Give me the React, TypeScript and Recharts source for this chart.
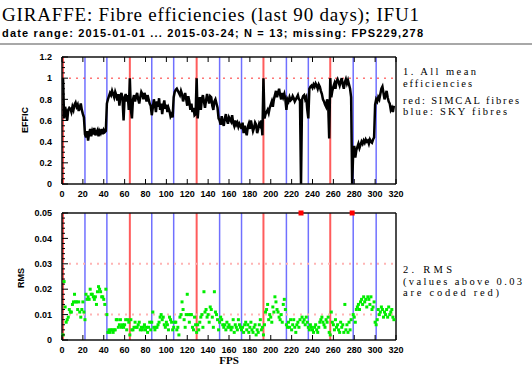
import React from 'react';
import { ComposedChart, Line, Scatter, XAxis, YAxis, ReferenceLine } from 'recharts';

// mean efficiency per fibre position (FPS 1..318); 229 and 278 are missing (0)
const efficiency = [
  1.00,
  0.62, 0.73, 0.68, 0.60, 0.70, 0.72, 0.71, 0.68, 0.73, 0.70, 0.75, 0.77, 0.73, 0.75, 0.69, 0.72, 0.76, 0.70, 0.66, 0.63,
  0.47,
  0.44, 0.50, 0.41, 0.48, 0.52, 0.45, 0.50, 0.47, 0.53, 0.46, 0.49, 0.51, 0.45, 0.50, 0.48, 0.52, 0.47, 0.51, 0.49, 0.50,
  0.76,
  0.80, 0.83, 0.86, 0.84, 0.88, 0.85, 0.82, 0.87, 0.84, 0.79, 0.85, 0.74, 0.83, 0.86, 0.80, 0.60, 0.82, 0.85, 0.78, 0.84, 0.70,
  1.00,
  0.70, 0.62, 0.80, 0.84, 0.78, 0.83, 0.86, 0.80, 0.76, 0.82, 0.87, 0.85, 0.80, 0.86, 0.83, 0.78, 0.84, 0.80, 0.76, 0.74,
  0.65,
  0.72, 0.80, 0.75, 0.68, 0.78, 0.73, 0.81, 0.70, 0.76, 0.66, 0.74, 0.79, 0.71, 0.75, 0.68, 0.72, 0.69, 0.64, 0.66, 0.63,
  0.82,
  0.87, 0.89, 0.90, 0.88, 0.86, 0.84, 0.88, 0.85, 0.78, 0.82, 0.86, 0.80, 0.74, 0.83, 0.78, 0.70, 0.76, 0.68, 0.72, 0.65, 0.66,
  1.00,
  0.62, 0.75, 0.82, 0.70, 0.80, 0.84, 0.78, 0.72, 0.79, 0.85, 0.80, 0.76, 0.83, 0.82, 0.74, 0.70, 0.78, 0.80, 0.76, 0.72,
  0.62,
  0.60, 0.56, 0.64, 0.58, 0.55, 0.62, 0.66, 0.60, 0.57, 0.63, 0.61, 0.59, 0.65, 0.58, 0.55, 0.60, 0.56, 0.58, 0.54, 0.57, 0.55,
  0.52, 0.58, 0.48, 0.55, 0.50, 0.46, 0.54, 0.57, 0.52, 0.60, 0.55, 0.50, 0.53, 0.58, 0.56, 0.48, 0.52, 0.57, 0.55, 0.60, 0.46,
  1.00,
  0.62, 0.66, 0.68, 0.70, 0.67, 0.72, 0.75, 0.78, 0.73, 0.80, 0.84, 0.88, 0.82, 0.86, 0.90, 0.84, 0.80, 0.86, 0.82, 0.85, 0.80,
  0.70,
  0.80, 0.78, 0.82, 0.79, 0.80, 0.83, 0.81, 0.78, 0.80, 0.82, 0.84, 0.80, 0.79, 0.00, 0.80, 0.83, 0.84, 0.80, 0.82, 0.70,
  0.62,
  0.90, 0.92, 0.93, 0.91, 0.94, 0.92, 0.95, 0.93, 0.90, 0.94, 0.92, 0.88, 0.85, 0.80, 0.78, 0.75, 0.73, 0.80, 0.76, 0.43,
  1.00,
  0.82, 0.88, 0.92, 0.95, 0.90, 0.97, 0.99, 0.96, 0.93, 0.97, 1.00, 0.94, 0.90, 0.96, 0.99, 0.95, 0.98, 0.94, 0.90, 0.82,
  0.00,
  0.30, 0.36, 0.25, 0.32, 0.35, 0.38, 0.34, 0.37, 0.40, 0.38, 0.41, 0.39, 0.42, 0.40, 0.41, 0.38, 0.42, 0.40, 0.39, 0.42, 0.44,
  0.75,
  0.80, 0.78, 0.82, 0.80, 0.85, 0.90, 0.92, 0.86, 0.80, 0.84, 0.88, 0.82, 0.78, 0.76, 0.70, 0.72, 0.68, 0.74,
];

// rms per fibre position (values at 0.05 are clipped at the top of the plot)
const rms = [
  0.002,
  0.023, 0.013, 0.007, 0.008, 0.009, 0.012, 0.011, 0.011, 0.014, 0.015, 0.018, 0.015, 0.015, 0.012, 0.015, 0.011, 0.009, 0.012, 0.015, 0.011,
  0.008,
  0.018, 0.016, 0.017, 0.016, 0.020, 0.018, 0.018, 0.017, 0.016, 0.017, 0.014, 0.019, 0.021, 0.020, 0.019, 0.017, 0.017, 0.016, 0.014, 0.020,
  0.010,
  0.003, 0.004, 0.003, 0.004, 0.004, 0.003, 0.004, 0.004, 0.008, 0.008, 0.005, 0.006, 0.008, 0.005, 0.006, 0.005, 0.006, 0.008, 0.004, 0.008, 0.007,
  0.002,
  0.008, 0.004, 0.004, 0.005, 0.007, 0.005, 0.005, 0.006, 0.007, 0.004, 0.005, 0.004, 0.005, 0.006, 0.004, 0.005, 0.003, 0.005, 0.007, 0.004,
  0.007,
  0.011, 0.005, 0.004, 0.005, 0.005, 0.006, 0.007, 0.009, 0.010, 0.008, 0.009, 0.006, 0.005, 0.007, 0.006, 0.004, 0.009, 0.008, 0.007, 0.004,
  0.005,
  0.007, 0.007, 0.004, 0.005, 0.002, 0.009, 0.010, 0.015, 0.012, 0.008, 0.005, 0.010, 0.018, 0.010, 0.007, 0.010, 0.010, 0.005, 0.004, 0.009, 0.006,
  0.003,
  0.006, 0.004, 0.007, 0.009, 0.010, 0.005, 0.019, 0.011, 0.012, 0.009, 0.010, 0.007, 0.013, 0.012, 0.009, 0.005, 0.019, 0.011, 0.010, 0.008,
  0.004,
  0.007, 0.009, 0.008, 0.006, 0.005, 0.006, 0.004, 0.007, 0.005, 0.006, 0.005, 0.004, 0.005, 0.008, 0.003, 0.006, 0.005, 0.004, 0.008, 0.006, 0.005,
  0.004, 0.005, 0.003, 0.006, 0.007, 0.004, 0.006, 0.003, 0.005, 0.007, 0.004, 0.003, 0.005, 0.006, 0.002, 0.004, 0.003, 0.006, 0.008, 0.004, 0.005,
  0.002,
  0.006, 0.011, 0.012, 0.014, 0.008, 0.010, 0.009, 0.007, 0.013, 0.011, 0.017, 0.015, 0.012, 0.011, 0.009, 0.008, 0.010, 0.007, 0.014, 0.016, 0.012,
  0.006,
  0.005, 0.007, 0.005, 0.008, 0.004, 0.006, 0.008, 0.005, 0.003, 0.006, 0.007, 0.005, 0.008, 0.050, 0.009, 0.007, 0.008, 0.006, 0.009, 0.007,
  0.005,
  0.004, 0.006, 0.005, 0.004, 0.003, 0.005, 0.006, 0.004, 0.003, 0.005, 0.007, 0.008, 0.009, 0.007, 0.006, 0.005, 0.008, 0.007, 0.009, 0.003,
  0.002,
  0.011, 0.007, 0.006, 0.004, 0.008, 0.005, 0.006, 0.004, 0.003, 0.007, 0.005, 0.006, 0.003, 0.014, 0.004, 0.006, 0.003, 0.007, 0.004, 0.008,
  0.050,
  0.010, 0.009, 0.007, 0.012, 0.013, 0.014, 0.012, 0.015, 0.016, 0.014, 0.017, 0.015, 0.016, 0.013, 0.017, 0.016, 0.014, 0.017, 0.012, 0.013, 0.015,
  0.007,
  0.006, 0.008, 0.012, 0.010, 0.011, 0.013, 0.012, 0.009, 0.011, 0.010, 0.012, 0.009, 0.013, 0.010, 0.011, 0.012, 0.009, 0.008,
];

const simcalFibres = [1, 65, 129, 193, 257];
const skyFibres = [22, 43, 86, 107, 151, 172, 215, 236, 279, 301];

const xTicks = [0, 20, 40, 60, 80, 100, 120, 140, 160, 180, 200, 220, 240, 260, 280, 300, 320];
const effMajor = [0, 0.2, 0.4, 0.6, 0.8, 1, 1.2];
const effTicks = [
  0, 0.05, 0.1, 0.15, 0.2, 0.25, 0.3, 0.35, 0.4, 0.45, 0.5, 0.55, 0.6,
  0.65, 0.7, 0.75, 0.8, 0.85, 0.9, 0.95, 1, 1.05, 1.1, 1.15, 1.2,
];
const rmsMajor = [0, 0.01, 0.02, 0.03, 0.04, 0.05];
const rmsTicks = [
  0, 0.002, 0.004, 0.006, 0.008, 0.01, 0.012, 0.014, 0.016, 0.018, 0.02, 0.022, 0.024,
  0.026, 0.028, 0.03, 0.032, 0.034, 0.036, 0.038, 0.04, 0.042, 0.044, 0.046, 0.048, 0.05,
];
const RMS_LIMIT = 0.03;

const effData = efficiency.map((v, i) => ({ fps: i + 1, eff: v }));
const rmsOk = rms.map((v, i) => ({ fps: i + 1, rms: v })).filter((d) => d.rms <= RMS_LIMIT);
const rmsHigh = rms.map((v, i) => ({ fps: i + 1, rms: Math.min(v, 0.05) })).filter((d) => d.rms > RMS_LIMIT);

const sans = 'Liberation Sans, Arial, sans-serif';
const serif = 'Liberation Serif, DejaVu Serif, serif';
const tickFont = { fontFamily: sans, fontSize: 9, fontWeight: 'bold' as const };

const isMajor = (majors: number[], v: number) => majors.some((m) => Math.abs(m - v) < 1e-9);

// ticks point inward like the IDL original, so the lines are drawn in the tick renderers
const bottomTick = (p: any) => (
  <g>
    <line x1={p.x} x2={p.x} y1={p.y} y2={p.y - 5} stroke="#000" />
    <text x={p.x} y={p.y + 12.5} textAnchor="middle" fill="#000" {...tickFont}>{p.payload.value}</text>
  </g>
);
const topTick = (p: any) => <line x1={p.x} x2={p.x} y1={p.y} y2={p.y + 5} stroke="#000" />;

const leftTick = (majors: number[]) => (p: any) => {
  const major = isMajor(majors, p.payload.value);
  return (
    <g>
      <line x1={p.x} x2={p.x + (major ? 6 : 3)} y1={p.y} y2={p.y} stroke="#000" />
      {major && (
        <text x={p.x - 10} y={p.y} dy="0.36em" textAnchor="end" fill="#000" {...tickFont}>
          {String(p.payload.value)}
        </text>
      )}
    </g>
  );
};
const rightTick = (majors: number[]) => (p: any) => {
  const major = isMajor(majors, p.payload.value);
  return <line x1={p.x - (major ? 6 : 3)} x2={p.x} y1={p.y} y2={p.y} stroke="#000" />;
};

const frameAxis = { stroke: '#111', strokeWidth: 1.5 };

const fibreLines = () => [
  ...skyFibres.map((f) => (
    <ReferenceLine key={`s${f}`} x={f} stroke="#7070ff" strokeWidth={1.5} />
  )),
  ...simcalFibres.map((f) => (
    <ReferenceLine key={`c${f}`} x={f} stroke="#ff5c5c" strokeWidth={2} />
  )),
];

const axes = (yDomain: number[], yTicks: number[], yMajor: number[]) => [
  <XAxis key="xb" xAxisId={0} type="number" dataKey="fps" domain={[0, 320]} ticks={xTicks} interval={0}
    height={16} tickSize={0} tickMargin={0} tickLine={false} axisLine={frameAxis} tick={bottomTick} />,
  <XAxis key="xt" xAxisId="top" orientation="top" type="number" dataKey="fps" domain={[0, 320]} ticks={xTicks}
    interval={0} height={1} tickSize={0} tickMargin={0} tickLine={false} axisLine={frameAxis} tick={topTick} />,
  <YAxis key="yl" yAxisId={0} type="number" domain={yDomain} ticks={yTicks} interval={0} width={30}
    tickSize={0} tickMargin={0} tickLine={false} axisLine={frameAxis} tick={leftTick(yMajor)} />,
  <YAxis key="yr" yAxisId="right" orientation="right" type="number" domain={yDomain} ticks={yTicks} interval={0}
    width={1} tickSize={0} tickMargin={0} tickLine={false} axisLine={frameAxis} tick={rightTick(yMajor)} />,
];

const greenDot = (p: any) => <rect x={p.cx - 1.5} y={p.cy - 1.5} width={3} height={3} fill="#00ee00" />;
const redDot = (p: any) => <rect x={p.cx - 2.5} y={p.cy - 2.5} width={5} height={5} fill="#ff0000" />;

const App: React.FC = () => {
  return (
    <div style={{ position: 'absolute', left: 0, top: 0, width: 532, height: 372, background: '#fff' }}>
      <svg width={532} height={372} style={{ position: 'absolute', left: 0, top: 0 }}>
        <text x={2} y={21} fontFamily={serif} fontSize={19} textLength={417} lengthAdjust="spacing">
          GIRAFFE: Fibre efficiencies (last 90 days); IFU1
        </text>
        <text x={2} y={37} fontFamily={sans} fontWeight="bold" fontSize={11} textLength={421} lengthAdjust="spacing">
          date range: 2015-01-01 ... 2015-03-24; N = 13; missing: FPS229,278
        </text>
        <rect x={0} y={43} width={532} height={2} fill="#a8a8a8" />

        <g fontFamily={serif} fontSize={10.5} fill="#000">
          <text x={403} y={75} textLength={73} lengthAdjust="spacing">1. All mean</text>
          <text x={403} y={86.5} textLength={69} lengthAdjust="spacing">efficiencies</text>
          <text x={403} y={104} textLength={116} lengthAdjust="spacing">red: SIMCAL fibres</text>
          <text x={403} y={114.5} textLength={104} lengthAdjust="spacing">blue: SKY fibres</text>
          <text x={403} y={273} textLength={49} lengthAdjust="spacing">2. RMS</text>
          <text x={403} y={284.5} textLength={119} lengthAdjust="spacing">(values above 0.03</text>
          <text x={403} y={296} textLength={96} lengthAdjust="spacing">are coded red)</text>
        </g>

        <text x={25} y={120} transform="rotate(-90 25 120)" textAnchor="middle" dy="0.36em"
          fontFamily={sans} fontWeight="bold" fontSize={9}>EFFIC</text>
        <text x={21} y={278} transform="rotate(-90 21 278)" textAnchor="middle" dy="0.36em"
          fontFamily={sans} fontWeight="bold" fontSize={9}>RMS</text>
        <text x={229} y={364} textAnchor="middle" fontFamily={serif} fontWeight="bold" fontSize={11}>FPS</text>
      </svg>

      <div style={{ position: 'absolute', left: 0, top: 0 }}>
        <ComposedChart width={532} height={200} data={effData}
          margin={{ top: 56, right: 135, bottom: 0, left: 32 }}>
          {fibreLines()}
          <ReferenceLine y={1} stroke="#ff3030" strokeDasharray="2 5" strokeWidth={1} />
          {axes([0, 1.2], effTicks, effMajor)}
          <Line type="linear" dataKey="eff" stroke="#000" strokeWidth={2.5} dot={false} isAnimationActive={false} />
        </ComposedChart>
      </div>

      <div style={{ position: 'absolute', left: 0, top: 195 }}>
        <ComposedChart width={532} height={177} margin={{ top: 17, right: 135, bottom: 16, left: 32 }}>
          {fibreLines()}
          <ReferenceLine y={0.01} stroke="#ffb4b4" strokeDasharray="2 5" strokeWidth={2} />
          <ReferenceLine y={0.03} stroke="#ffb4b4" strokeDasharray="2 5" strokeWidth={2} />
          {axes([0, 0.05], rmsTicks, rmsMajor)}
          <Scatter data={rmsOk} dataKey="rms" shape={greenDot} isAnimationActive={false} />
          <Scatter data={rmsHigh} dataKey="rms" shape={redDot} isAnimationActive={false} />
        </ComposedChart>
      </div>
    </div>
  );
};

export default App;
